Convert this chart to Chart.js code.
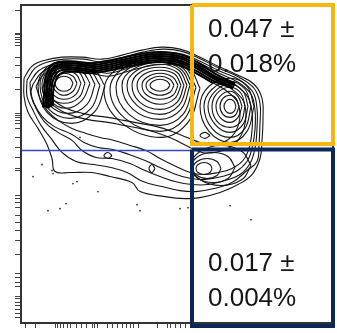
<!DOCTYPE html>
<html>
<head>
<meta charset="utf-8">
<script src="https://cdn.jsdelivr.net/npm/chart.js@4.4.1/dist/chart.umd.min.js"></script>
<style>
html,body{margin:0;padding:0;background:#fff;}
#c{display:block;}
</style>
</head>
<body>
<canvas id="c" width="337" height="333"></canvas>
<script>
// ---- axis tick positions (channel units) ----
const xTicks = [4,14,34,36,39,42,46,49,55,60,65,71,73,76,86,91,96,101,105,109,112,117,136,146,149,154,159,164,178,194,206,211,218,223,229,234,249,261,266,271,276,281,291,309];
const yTicks = [312,289,288,285,283,280,277,265,257,245,233,209,207,205,202,199,194,185,175,165,154,152,127,124,120,115,107,100,92,82,68,49,45,40,36,26,24,20,17,13,9,5];

// ---- contour rings (x, y in channel units) ----
const ringE1 = [[3,244],[11,256],[24,262],[41,265],[61,265],[81,263],[101,267],[121,272],[141,275],[159,273],[177,266],[197,256],[217,247],[233,238],[241,224],[242,204],[241,182],[239,164],[231,148],[217,138],[199,130],[179,125],[164,124],[144,126],[119,131],[111,140],[89,146],[71,150],[49,150],[34,151],[31,164],[26,178],[17,194],[7,210],[3,226]];
const ringE1b = [[6,242],[14,254],[26,260],[43,263],[63,263],[82,260],[102,265],[122,270],[142,273],[160,271],[178,264],[198,254],[218,245],[233,234],[239,219],[239,199],[238,178],[236,161],[226,152],[211,140],[193,134],[175,131],[159,132],[141,136],[122,141],[106,150],[90,155],[73,158],[55,161],[41,170],[30,184],[20,197],[12,212],[6,226]];
const ringE2 = [[9,240],[17,251],[29,257],[45,260],[65,260],[83,257],[103,262],[123,267],[143,270],[161,268],[179,261],[199,251],[219,242],[232,230],[236,214],[236,194],[234,174],[229,159],[219,148],[204,142],[187,138],[171,138],[154,141],[139,146],[124,152],[109,159],[91,164],[75,165],[61,172],[51,182],[37,190],[24,200],[15,214],[10,227]];
const ringE2b = [[12,238],[20,249],[31,256],[46,259],[66,258],[84,255],[104,260],[124,265],[144,268],[161,266],[179,259],[198,249],[217,240],[230,228],[234,212],[234,193],[231,174],[226,161],[215,151],[201,146],[184,143],[170,144],[155,148],[139,155],[124,162],[108,168],[92,173],[77,175],[63,180],[51,188],[33,196],[21,206],[13,219],[10,230]];
const ringE3 = [[15,236],[22,247],[33,254],[47,257],[67,256],[85,253],[105,258],[125,263],[144,266],[161,264],[179,257],[197,247],[215,237],[227,225],[231,210],[231,192],[228,174],[222,162],[211,154],[197,150],[182,148],[169,150],[155,156],[139,164],[125,172],[109,177],[93,182],[79,185],[65,189],[51,194],[37,202],[26,212],[19,224]];
const ringE4 = [[21,234],[27,244],[37,251],[51,253],[69,252],[87,249],[107,254],[127,259],[145,262],[161,260],[177,253],[194,243],[211,233],[222,222],[225,208],[223,194],[217,182],[207,174],[194,170],[181,170],[167,176],[151,184],[135,190],[119,194],[103,197],[87,200],[71,202],[57,205],[43,210],[31,218],[24,226]];
const ringE5 = [[27,232],[32,242],[40,248],[52,250],[69,249],[87,246],[107,251],[127,256],[145,258],[160,256],[175,249],[191,240],[206,231],[216,221],[219,208],[217,196],[211,186],[202,180],[191,178],[179,180],[166,185],[151,191],[135,196],[119,199],[103,202],[87,205],[71,207],[57,210],[45,214],[35,220],[29,226]];

const ringA1 = [[52,239],[49,244],[43,246],[37,244],[34,239],[37,233],[43,231],[49,233]];
const ringA2 = [[56,239],[52,246],[43,249],[35,246],[31,239],[35,231],[43,227],[52,231]];
const ringA3 = [[60,239],[55,248],[43,252],[32,248],[28,239],[32,228],[43,223],[55,228]];
const ringA4 = [[64,239],[58,250],[43,254],[30,250],[25,239],[30,225],[43,219],[58,225]];
const ringA5 = [[69,239],[61,251],[43,256],[29,251],[23,239],[29,222],[45,214],[61,222]];
const ringA6 = [[74,238],[65,252],[43,258],[28,252],[21,238],[28,218],[47,209],[66,218]];
const ringA7 = [[79,237],[68,253],[43,260],[26,253],[19,237],[27,214],[49,204],[70,214]];
const ringA8 = [[84,236],[72,254],[43,261],[25,254],[17,236],[26,210],[51,199],[74,211]];

const ringB1 = [[149,237],[146,241],[139,243],[132,241],[129,237],[132,233],[139,231],[146,233]];
const ringB2 = [[153,237],[149,243],[139,246],[129,243],[125,237],[129,230],[139,227],[149,230]];
const ringB3 = [[157,237],[152,245],[139,249],[126,245],[121,237],[126,227],[139,223],[152,227]];
const ringB4 = [[160,237],[154,248],[139,252],[123,248],[116,237],[123,224],[139,218],[154,224]];
const ringB5 = [[163,237],[156,250],[139,255],[119,250],[111,237],[119,220],[139,213],[156,220]];
const ringB6 = [[166,237],[158,252],[139,258],[116,252],[106,237],[116,217],[139,208],[158,217]];
const ringB7 = [[169,237],[160,253],[139,260],[112,253],[101,237],[112,213],[139,203],[160,213]];
const ringB8 = [[172,236],[162,254],[139,262],[108,254],[95,235],[108,208],[139,197],[162,208]];
const ringB9 = [[175,235],[164,255],[139,264],[104,255],[89,233],[104,204],[139,191],[164,204]];
const ringB10 = [[179,234],[167,256],[139,266],[100,256],[83,232],[100,200],[140,185],[167,200]];

const ringC1 = [[215,216],[213,221],[209,223],[205,221],[203,216],[205,211],[209,209],[213,211]];
const ringC2 = [[218,216],[215,224],[209,227],[202,224],[199,216],[202,208],[209,205],[215,208]];
const ringC3 = [[221,216],[217,226],[209,231],[199,226],[195,216],[199,205],[209,200],[217,205]];
const ringC4 = [[224,216],[220,229],[209,235],[196,229],[191,216],[196,201],[209,195],[220,201]];
const ringC5 = [[227,216],[222,231],[209,238],[194,231],[187,216],[194,198],[209,190],[222,198]];
const ringC6 = [[230,216],[224,233],[209,241],[191,233],[183,216],[191,194],[209,185],[224,194]];
const ringC7 = [[233,216],[226,236],[209,244],[188,236],[179,216],[188,191],[209,180],[226,191]];

const ringD1 = [[191,154],[189,158],[183,160],[177,158],[175,154],[177,150],[183,148],[189,150]];
const ringD2 = [[200,154],[196,161],[186,164],[176,161],[172,154],[176,147],[186,144],[196,147]];
const ringD3 = [[214,155],[207,166],[192,170],[177,166],[170,155],[177,144],[192,140],[207,144]];
const ringD4 = [[230,157],[221,171],[200,177],[179,171],[170,157],[179,143],[200,137],[221,143]];

const blob1 = [[189,187],[184,190],[179,187],[184,184]];
const blob2 = [[91,167],[87,170],[83,167],[87,164]];
const blob3 = [[134,154],[131,158],[128,154],[131,150]];

// dense ridge (tightly packed contour lines, open)
const ridge1 = [[22,215],[23,227],[25,246],[32,258],[49,261],[69,259],[84,261],[104,265],[124,269],[144,270],[162,267],[178,259],[195,248],[214,239]];
const ridge2 = [[24,215],[25,227],[27,245],[34,256],[49,259],[69,257],[84,259],[104,263],[124,267],[144,268],[161,265],[177,257],[194,246],[214,238]];
const ridge3 = [[26,214],[26,227],[28,244],[35,255],[49,257],[69,255],[84,257],[104,261],[124,265],[144,266],[161,263],[177,255],[194,245],[214,237]];
const ridge4 = [[28,214],[28,227],[30,243],[36,253],[49,255],[69,253],[84,255],[104,259],[124,263],[144,264],[161,261],[177,253],[194,243],[213,235]];
const ridge5 = [[30,215],[30,227],[32,242],[38,251],[50,253],[69,251],[84,253],[104,257],[124,261],[144,262],[160,259],[176,251],[193,241],[212,234]];
const ridge6 = [[32,216],[32,228],[34,240],[40,249],[51,251],[69,249],[84,251],[104,255],[124,259],[144,260],[159,257],[175,249],[192,239]];

// outlier events
const events = [[21,158],[12,146],[31,152],[32,149],[52,139],[56,141],[77,131],[45,119],[39,114],[27,112],[116,118],[119,112],[159,114],[167,115],[59,185],[209,117],[230,103]];

// ---- gates ----
const gateUpper = [[171,317],[312,317],[312,178.5],[171,178.5]];
const gateLower = [[171,173],[312,173],[312,-3],[171,-3]];
const splitLine = [[1,172],[171,172]];

// ---- gate statistics ----
const upperStat = ["0.047 ±", "0.018%"];
const lowerStat = ["0.017 ±", "0.004%"];

const toPts = a => a.map(p => ({x: p[0], y: p[1]}));
const closed = a => toPts(a.concat([a[0]]));

const contourRings = [ringE1, ringE1b, ringE2, ringE2b, ringE3, ringE4, ringE5,
  ringA1, ringA2, ringA3, ringA4, ringA5, ringA6, ringA7, ringA8,
  ringB1, ringB2, ringB3, ringB4, ringB5, ringB6, ringB7, ringB8, ringB9, ringB10,
  ringC1, ringC2, ringC3, ringC4, ringC5, ringC6, ringC7,
  ringD1, ringD2, ringD3, ringD4, blob1, blob2, blob3];
const ridgeLines = [ridge1, ridge2, ridge3, ridge4, ridge5, ridge6];

const datasets = [];
datasets.push({data: closed(gateUpper), showLine: true, borderColor: '#F6B70E', borderWidth: 4, pointRadius: 0, tension: 0, clip: false, order: 0, borderJoinStyle: 'miter'});
datasets.push({data: closed(gateLower), showLine: true, borderColor: '#0D2759', borderWidth: 4, pointRadius: 0, tension: 0, clip: false, order: 0, borderJoinStyle: 'miter'});
datasets.push({data: toPts(splitLine), showLine: true, borderColor: '#3846D6', borderWidth: 1.5, pointRadius: 0, tension: 0, order: 1});
ridgeLines.forEach(r => {
  datasets.push({data: toPts(r), showLine: true, borderColor: '#000', borderWidth: 2, pointRadius: 0, tension: 0.4, order: 2});
});
contourRings.forEach(r => {
  datasets.push({data: closed(r), showLine: true, borderColor: '#161616', borderWidth: 1.1, pointRadius: 0, tension: 0.4, order: 3});
});
datasets.push({data: toPts(events), showLine: false, pointRadius: 0.9, pointBackgroundColor: '#333', pointBorderWidth: 0, order: 3});

const framePlugin = {
  id: 'frame',
  beforeDatasetsDraw(chart) {
    const {ctx, chartArea: a} = chart;
    ctx.save();
    ctx.strokeStyle = '#333';
    ctx.lineWidth = 2;
    ctx.strokeRect(a.left, a.top, a.right - a.left, a.bottom - a.top);
    ctx.restore();
  }
};

const statPlugin = {
  id: 'stats',
  afterDatasetsDraw(chart) {
    const {ctx, scales: {x, y}} = chart;
    ctx.save();
    ctx.fillStyle = '#151515';
    ctx.font = '26px "Liberation Sans", Arial, sans-serif';
    ctx.textBaseline = 'alphabetic';
    ctx.textAlign = 'left';
    const x0 = x.getPixelForValue(187);
    ctx.fillText(upperStat[0], x0, y.getPixelForValue(285));
    ctx.fillText(upperStat[1], x0, y.getPixelForValue(250));
    ctx.fillText(lowerStat[0], x0, y.getPixelForValue(52));
    ctx.fillText(lowerStat[1], x0, y.getPixelForValue(17));
    ctx.restore();
  }
};

new Chart(document.getElementById('c'), {
  type: 'scatter',
  data: {datasets},
  options: {
    responsive: false,
    animation: false,
    events: [],
    layout: {padding: {left: 15, top: 5, right: 4, bottom: 5}},
    plugins: {legend: {display: false}, tooltip: {enabled: false}, title: {display: false}},
    scales: {
      x: {
        type: 'linear', min: 0, max: 312, position: 'bottom',
        afterBuildTicks: s => { s.ticks = xTicks.map(v => ({value: v})); },
        ticks: {display: false},
        grid: {drawOnChartArea: false, drawTicks: true, tickLength: 5, color: '#444', lineWidth: 1},
        border: {display: true, color: '#333', width: 2}
      },
      y: {
        type: 'linear', min: 0, max: 317, position: 'left',
        afterBuildTicks: s => { s.ticks = yTicks.map(v => ({value: v})); },
        ticks: {display: false},
        grid: {drawOnChartArea: false, drawTicks: true, tickLength: 6, color: '#444', lineWidth: 1},
        border: {display: true, color: '#333', width: 2}
      }
    }
  },
  plugins: [framePlugin, statPlugin]
});
</script>
</body>
</html>
